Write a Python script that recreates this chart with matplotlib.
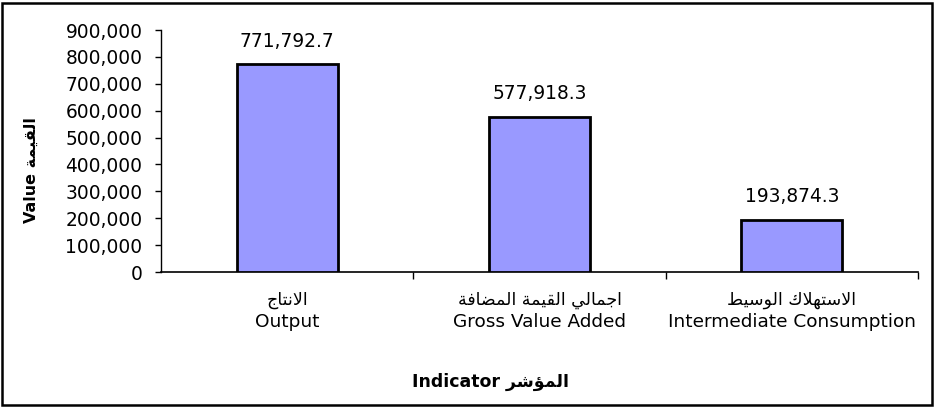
import matplotlib
matplotlib.use("Agg")
import matplotlib.pyplot as plt
from matplotlib.patches import Rectangle
from matplotlib.ticker import FuncFormatter, FixedLocator, NullFormatter

# ---- data ----
categories_ar = ["الانتاج", "اجمالي القيمة المضافة", "الاستهلاك الوسيط"]
categories_en = ["Output", "Gross Value Added", "Intermediate Consumption"]
values = [771792.7, 577918.3, 193874.3]
yticks = [0, 100000, 200000, 300000, 400000, 500000, 600000, 700000, 800000, 900000]
ylabel_en, ylabel_ar = "Value", "القيمة"
xlabel_en, xlabel_ar = "Indicator", "المؤشر"

# ---- minimal Arabic shaping (presentation forms, visual order) ----
FORMS = {  # isolated, final, initial, medial
    'ا': (0xFE8D, 0xFE8E, None, None),
    'ة': (0xFE93, 0xFE94, None, None),
    'ؤ': (0xFE85, 0xFE86, None, None),
    'ر': (0xFEAD, 0xFEAE, None, None),
    'و': (0xFEED, 0xFEEE, None, None),
    'ج': (0xFE9D, 0xFE9E, 0xFE9F, 0xFEA0),
    'م': (0xFEE1, 0xFEE2, 0xFEE3, 0xFEE4),
    'ل': (0xFEDD, 0xFEDE, 0xFEDF, 0xFEE0),
    'ي': (0xFEF1, 0xFEF2, 0xFEF3, 0xFEF4),
    'ق': (0xFED5, 0xFED6, 0xFED7, 0xFED8),
    'ض': (0xFEBD, 0xFEBE, 0xFEBF, 0xFEC0),
    'ف': (0xFED1, 0xFED2, 0xFED3, 0xFED4),
    'ن': (0xFEE5, 0xFEE6, 0xFEE7, 0xFEE8),
    'ت': (0xFE95, 0xFE96, 0xFE97, 0xFE98),
    'س': (0xFEB1, 0xFEB2, 0xFEB3, 0xFEB4),
    'ه': (0xFEE9, 0xFEEA, 0xFEEB, 0xFEEC),
    'ك': (0xFED9, 0xFEDA, 0xFEDB, 0xFEDC),
    'ط': (0xFEC1, 0xFEC2, 0xFEC3, 0xFEC4),
    'ش': (0xFEB5, 0xFEB6, 0xFEB7, 0xFEB8),
}


def dual(c):
    return c in FORMS and FORMS[c][2] is not None


def shape(s):
    out = []
    i = 0
    n = len(s)
    while i < n:
        c = s[i]
        if c not in FORMS:
            out.append(c)
            i += 1
            continue
        prev = s[i - 1] if i > 0 else ''
        cp = dual(prev)
        if c == 'ل' and i + 1 < n and s[i + 1] == 'ا':
            out.append(chr(0xFEFC if cp else 0xFEFB))
            i += 2
            continue
        nxt = s[i + 1] if i + 1 < n else ''
        cn = dual(c) and nxt in FORMS
        f = FORMS[c]
        if cp and cn:
            code = f[3]
        elif cp:
            code = f[1]
        elif cn:
            code = f[2]
        else:
            code = f[0]
        out.append(chr(code))
        i += 1
    return ''.join(reversed(out))


plt.rcParams['font.family'] = ['DejaVu Sans']

W, H = 935, 408
fig = plt.figure(figsize=(W / 100, H / 100), dpi=100)
ax = fig.add_axes([161 / W, 1 - 272 / H, (918 - 161) / W, (272 - 30) / H])

x = list(range(len(values)))
ax.bar(x, values, width=0.4, color='#9999FF', edgecolor='black', linewidth=2, zorder=3)
for xi, v in zip(x, values):
    ax.annotate(f"{v:,.1f}", xy=(xi, v), xytext=(0, 10), textcoords='offset points',
                ha='center', va='bottom', fontsize=13.4)

ax.set_xlim(-0.5, len(values) - 0.5)
ax.set_ylim(0, 900000)
ax.yaxis.set_major_locator(FixedLocator(yticks))
ax.yaxis.set_major_formatter(FuncFormatter(lambda v, p: f"{int(v):,}"))
ax.tick_params(axis='y', labelsize=13.4, length=4.3, width=1, direction='out', pad=9)

# category ticks at boundaries, labels centered
ax.xaxis.set_major_locator(FixedLocator([i + 0.5 for i in x]))
ax.xaxis.set_major_formatter(NullFormatter())
ax.tick_params(axis='x', length=5, width=1, direction='out')
for xi, a, e in zip(x, categories_ar, categories_en):
    ax.annotate(shape(a), xy=(xi, 0), xycoords=('data', 'axes fraction'),
                xytext=(0, -28 * 0.72), textcoords='offset points',
                ha='center', va='center', fontsize=12.5)
    ax.annotate(e, xy=(xi, 0), xycoords=('data', 'axes fraction'),
                xytext=(0, -50 * 0.72), textcoords='offset points',
                ha='center', va='center', fontsize=13.3)

for s in ['top', 'right']:
    ax.spines[s].set_visible(False)
ax.spines['left'].set_linewidth(1)
ax.spines['bottom'].set_linewidth(1.2)

fig.text(31 / W, 1 - 170 / H, ylabel_en + " " + shape(ylabel_ar), rotation=90,
         ha='center', va='center', fontsize=11.5, fontweight='bold')
fig.text(490 / W, 1 - 382 / H, xlabel_en + " " + shape(xlabel_ar),
         ha='center', va='center', fontsize=12.5, fontweight='bold')

fig.add_artist(Rectangle((2 / W, 3 / H), (W - 5) / W, (H - 6) / H, transform=fig.transFigure,
                         fill=False, edgecolor='black', linewidth=1.8))

fig.savefig("out.png", dpi=100)
